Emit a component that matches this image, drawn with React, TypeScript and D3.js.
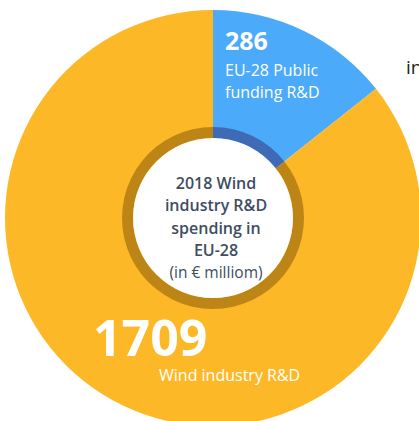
import React, { useRef, useEffect } from 'react';
import * as d3 from 'd3';

const labels = ['EU-28 Public funding R&D', 'Wind industry R&D'];
const values = [286, 1709];
const valueTexts = ['286', '1709'];
const centerLines = ['2018 Wind', 'industry R&D', 'spending in', 'EU-28'];
const centerNote = '(in € milliom)';

const fills = ['#4BAAF9', '#FDB827'];
const rings = ['#3F6AB6', '#BC8516'];

const W = 419;
const H = 421;
const cx = 213;
const cy = 218;

const App = () => {
  const ref = useRef<SVGSVGElement>(null);

  useEffect(() => {
    const svg = d3.select(ref.current);
    svg.selectAll('*').remove(); // clear previous renders

    const data = labels.map((l, i) => ({ label: l, value: values[i] }));
    const pie = d3.pie<any>().value(d => d.value).sort(null);
    const arcs = pie(data);

    const outer = d3.arc<any>().innerRadius(0).outerRadius(208);
    const ring = d3.arc<any>().innerRadius(80).outerRadius(91);

    const g = svg.append('g').attr('transform', `translate(${cx},${cy})`);

    g.selectAll('path.slice')
      .data(arcs)
      .enter()
      .append('path')
      .attr('class', 'slice')
      .attr('d', outer)
      .attr('fill', (d, i) => fills[i]);

    g.selectAll('path.ring')
      .data(arcs)
      .enter()
      .append('path')
      .attr('class', 'ring')
      .attr('d', ring)
      .attr('fill', (d, i) => rings[i]);

    g.append('circle').attr('r', 80).attr('fill', '#fff');

    const font = "'Open Sans', 'Noto Sans', sans-serif";

    // center title
    const ct = g.append('g').attr('font-family', font).attr('text-anchor', 'middle').attr('fill', '#3E4D61');
    centerLines.forEach((t, i) => {
      ct.append('text')
        .attr('x', 3)
        .attr('y', -29 + i * 22.3)
        .attr('font-size', 16)
        .attr('font-weight', 600)
        .text(t);
    });
    ct.append('text')
      .attr('x', 3)
      .attr('y', 60)
      .attr('font-size', 15.5)
      .text(centerNote);

    // slice labels
    const lab = svg.append('g').attr('font-family', font).attr('fill', '#fff');
    lab.append('text').attr('x', 225).attr('y', 50).attr('font-size', 25).attr('font-weight', 700).text(valueTexts[0]);
    lab.append('text').attr('x', 225).attr('y', 76).attr('font-size', 16).text('EU-28 Public');
    lab.append('text').attr('x', 225).attr('y', 98).attr('font-size', 16).text('funding R&D');

    lab.append('text').attr('x', 93).attr('y', 356).attr('font-size', 50).attr('font-weight', 700).text(valueTexts[1]);
    lab.append('text').attr('x', 159).attr('y', 381).attr('font-size', 16).text(labels[1]);

    svg.append('text')
      .attr('x', 406)
      .attr('y', 74)
      .attr('font-family', font)
      .attr('font-size', 19)
      .attr('fill', '#222')
      .text('in');
  }, []);

  return (
    <svg ref={ref} width={W} height={H} style={{ position: 'absolute', left: 0, top: 0, background: '#fff' }} />
  );
};

export default App;
